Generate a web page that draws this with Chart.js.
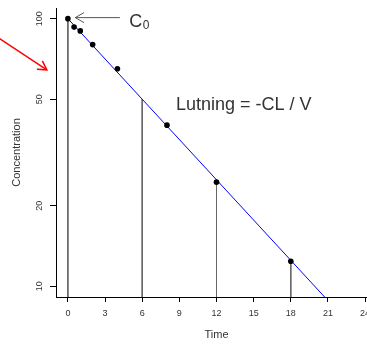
<!DOCTYPE html>
<html><head><meta charset="utf-8">
<script src="https://cdn.jsdelivr.net/npm/chart.js@4/dist/chart.umd.min.js"></script>
<style>
html,body{margin:0;padding:0;background:#fff;overflow:hidden}
#wrap{width:367px;height:345px;overflow:hidden;position:relative}
#inner{width:390px;height:345px}
canvas{display:block}
</style></head><body>
<div id="wrap"><div id="inner"><canvas id="c" width="390" height="345"></canvas></div></div>
<script>
// ---- data ----
const timePoints = [0, 0.5, 1, 2, 4, 8, 12, 18];
const concentrations = [100, 93, 90, 80, 65, 40, 24.5, 12.4];
const fitTimes = [0, 21];
const fitConc = [100, 8.84];
const dropTimes = [0, 6, 12, 18];
const dropConc = [100, 50, 25, 12.5];
const xTickValues = [0, 3, 6, 9, 12, 15, 18, 21, 24];
const yTickValues = [10, 20, 50, 100];
const xRange = [-0.96, 24.96];
const yRange = [9.12, 109.6];

const FONT = '"Liberation Sans", Arial, Helvetica, sans-serif';
const TEXT = '#333';

const pointData = timePoints.map((t, i) => ({x: t, y: concentrations[i]}));
const fitData = fitTimes.map((t, i) => ({x: t, y: fitConc[i]}));
const dropSets = dropTimes.map((t, i) => ({
  type: 'line', showLine: true, order: 3,
  data: [{x: t, y: dropConc[i]}, {x: t, y: yRange[0]}],
  borderColor: '#666', borderWidth: 1, pointRadius: 0, fill: false
}));

const annotations = {
  id: 'annotations',
  afterDraw(chart) {
    const {ctx, scales: {x, y}} = chart;
    const P = (tx, cy) => [x.getPixelForValue(tx), y.getPixelForValue(cy)];
    ctx.save();
    // y tick labels (rotated)
    ctx.font = '9px ' + FONT;
    ctx.fillStyle = TEXT;
    ctx.textAlign = 'center';
    ctx.textBaseline = 'middle';
    yTickValues.forEach(v => {
      const py = y.getPixelForValue(v);
      ctx.save();
      ctx.translate(40, py);
      ctx.rotate(-Math.PI / 2);
      ctx.fillText(String(v), 0, 0);
      ctx.restore();
    });
    // arrow helper
    function arrow(x0, y0, x1, y1, color, w, len) {
      ctx.strokeStyle = color; ctx.lineWidth = w;
      ctx.beginPath(); ctx.moveTo(x0, y0); ctx.lineTo(x1, y1); ctx.stroke();
      const a = Math.atan2(y1 - y0, x1 - x0);
      ctx.beginPath();
      ctx.moveTo(x1 + len * Math.cos(a + Math.PI - Math.PI / 6), y1 + len * Math.sin(a + Math.PI - Math.PI / 6));
      ctx.lineTo(x1, y1);
      ctx.lineTo(x1 + len * Math.cos(a + Math.PI + Math.PI / 6), y1 + len * Math.sin(a + Math.PI + Math.PI / 6));
      ctx.stroke();
    }
    // grey arrow to C0
    const g0 = P(4.2, 100.9), g1 = P(0.6, 100.9);
    arrow(g0[0], g0[1], g1[0], g1[1], '#555', 1, 10);
    // C0 label
    const c = P(4.96, 93.3);
    ctx.textAlign = 'left'; ctx.textBaseline = 'alphabetic';
    ctx.font = '18px ' + FONT;
    ctx.fillText('C', c[0], c[1]);
    const cw = ctx.measureText('C').width;
    ctx.font = '12px ' + FONT;
    ctx.fillText('0', c[0] + cw + 0.5, c[1] + 2.5);
    // slope label
    const l = P(8.73, 45.6);
    ctx.font = '18px ' + FONT;
    ctx.fillText('Lutning = -CL / V', l[0], l[1]);
    // red arrow
    const r0 = P(-6.0, 87.1), r1 = P(-1.70, 64.4);
    arrow(r0[0], r0[1], r1[0], r1[1], '#ff0000', 1.5, 10);
    ctx.restore();
  }
};

new Chart(document.getElementById('c'), {
  type: 'scatter',
  data: {
    datasets: [
      {data: pointData, backgroundColor: '#000', borderColor: '#000', pointRadius: 2.8, pointBorderWidth: 0, order: 1},
      {type: 'line', showLine: true, data: fitData, borderColor: '#0000ff', borderWidth: 1, pointRadius: 0, fill: false, order: 2},
      ...dropSets
    ]
  },
  options: {
    responsive: false,
    animation: false,
    events: [],
    layout: {padding: {top: 8, right: 13, left: 0, bottom: 0}},
    plugins: {legend: {display: false}, tooltip: {enabled: false}},
    scales: {
      x: {
        type: 'linear', min: xRange[0], max: xRange[1],
        afterBuildTicks: s => { s.ticks = xTickValues.map(v => ({value: v})); },
        afterFit: s => { s.height = 48; },
        ticks: {font: {size: 9, family: FONT}, color: TEXT, padding: 6, maxRotation: 0, autoSkip: false},
        grid: {drawOnChartArea: false, drawTicks: true, tickLength: 5, color: '#000', lineWidth: 1},
        border: {display: true, color: '#000', width: 1},
        title: {display: true, text: 'Time', font: {size: 11, family: FONT}, color: TEXT, padding: {top: 0, bottom: 3}}
      },
      y: {
        type: 'logarithmic', min: yRange[0], max: yRange[1],
        afterBuildTicks: s => { s.ticks = yTickValues.map(v => ({value: v})); },
        afterFit: s => { s.width = 56; },
        ticks: {display: false},
        grid: {drawOnChartArea: false, drawTicks: true, tickLength: 6, color: '#000', lineWidth: 1},
        border: {display: true, color: '#000', width: 1},
        title: {display: true, text: 'Concentration', font: {size: 11, family: FONT}, color: TEXT, padding: {top: 10, bottom: 0}}
      }
    }
  },
  plugins: [annotations]
});
</script>
</body></html>
